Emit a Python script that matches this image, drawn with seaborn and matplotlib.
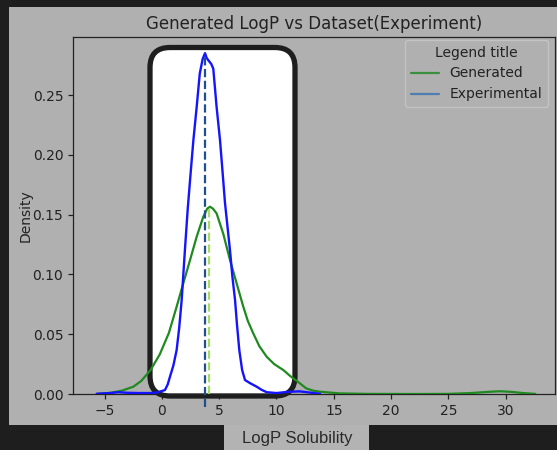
import matplotlib
matplotlib.use("Agg")
import matplotlib.pyplot as plt
import seaborn as sns
import pandas as pd
from matplotlib.patches import FancyBboxPatch, Rectangle
from matplotlib.transforms import IdentityTransform
from matplotlib.lines import Line2D

# ---- data ----
exp_x = [-5.7, -4.5, -3.8, -3.0, -2.0, -1.0, -0.46, 0.26, 0.5, 0.7, 1.0, 1.28, 1.5, 1.72,
         2.0, 2.25, 2.5, 2.74, 3.03, 3.3, 3.55, 3.76, 3.9, 4.05, 4.3, 4.48, 4.77, 5.07,
         5.3, 5.5, 5.72, 5.94, 6.15, 6.38, 6.55, 6.75, 7.0, 7.25, 7.7, 8.27, 8.7, 9.14,
         10.0, 11.0, 12.0, 12.9, 13.8]
exp_y = [0.0002, 0.0008, 0.0015, 0.001, 0.0008, 0.0008, 0.0012, 0.0033, 0.008, 0.0145,
         0.024, 0.0368, 0.055, 0.0786, 0.12, 0.155, 0.1845, 0.212, 0.240, 0.268, 0.280,
         0.285, 0.281, 0.279, 0.276, 0.272, 0.240, 0.212, 0.1845, 0.160, 0.140, 0.120,
         0.098, 0.0786, 0.058, 0.0368, 0.020, 0.0117, 0.009, 0.0061, 0.0035, 0.0015,
         0.0008, 0.0018, 0.0022, 0.0012, 0.0002]

gen_x = [-5.7, -4.5, -3.5, -2.5, -1.8, -1.0, -0.2, 0.6, 1.28, 1.86, 2.45, 3.03, 3.6, 3.95,
         4.19, 4.45, 4.77, 5.35, 5.94, 6.52, 7.1, 7.5, 7.97, 8.5, 9.14, 9.8, 10.6, 11.2,
         11.76, 12.6, 13.2, 13.8, 15.5, 18, 22, 25, 27, 28.5, 29.5, 30.5, 31.5, 32.6]
gen_y = [0.0, 0.001, 0.0028, 0.0061, 0.011, 0.020, 0.033, 0.051, 0.073, 0.0925, 0.112,
         0.1315, 0.148, 0.155, 0.1566, 0.155, 0.151, 0.134, 0.112, 0.0925, 0.073, 0.061,
         0.0507, 0.040, 0.0312, 0.025, 0.020, 0.015, 0.011, 0.0047, 0.0028, 0.0019,
         0.0005, 0.0001, 0.0, 0.0001, 0.0008, 0.0018, 0.0023, 0.0018, 0.0008, 0.0001]

exp_mean = 3.75
exp_peak = 0.285
gen_mean = 4.13
gen_peak = 0.1566

series_labels = ["Generated", "Experimental"]
title = "Generated LogP vs Dataset(Experiment)"
xlabel = "LogP Solubility"
ylabel = "Density"
xticks = [-5, 0, 5, 10, 15, 20, 25, 30]
yticks = [0.00, 0.05, 0.10, 0.15, 0.20, 0.25]

GRAY = "#b0b0b0"
DARK = "#1e1e1e"

sns.set_style("ticks")
plt.rcParams["font.family"] = ["DejaVu Sans"]

fig = plt.figure(figsize=(5.57, 4.5), dpi=100, facecolor=DARK)
# gray panel of the screenshot
fig.patches.append(Rectangle((9 / 557, 25 / 450), 548 / 557, 418 / 450,
                             transform=fig.transFigure, facecolor=GRAY,
                             edgecolor="none", zorder=-10))
# label box below
fig.patches.append(Rectangle((224 / 557, 0), 145 / 557, 25 / 450,
                             transform=fig.transFigure, facecolor="#b3b3b3",
                             edgecolor="none", zorder=-10))

ax = fig.add_axes([73 / 557, 56 / 450, 482 / 557, 357 / 450])
ax.set_facecolor(GRAY)
for s in ax.spines.values():
    s.set_color("#222222")
    s.set_linewidth(0.9)

df_gen = pd.DataFrame({"x": gen_x, "y": gen_y})
df_exp = pd.DataFrame({"x": exp_x, "y": exp_y})
sns.lineplot(data=df_gen, x="x", y="y", color="#1f8a1f", lw=1.6, estimator=None, ax=ax, zorder=3)
sns.lineplot(data=df_exp, x="x", y="y", color="#1414ff", lw=1.7, estimator=None, ax=ax, zorder=3)

ax.plot([exp_mean, exp_mean], [-0.011, exp_peak], ls="--", color="#1f4f8f", lw=1.6,
        clip_on=False, zorder=3.5)
ax.plot([gen_mean, gen_mean], [0, gen_peak], ls="--", color="#a4dc66", lw=1.6, zorder=3.5)

# white rounded highlight box (in pixel coordinates)
box = FancyBboxPatch((150, 450 - 396), 145, 396 - 47.5,
                     boxstyle="round,pad=0,rounding_size=20",
                     transform=IdentityTransform(), facecolor="white",
                     edgecolor=DARK, linewidth=3.8, clip_on=False, zorder=1.5)
ax.add_patch(box)

ax.set_xlim(-7.77, 34.32)
ax.set_ylim(0, 0.2985)
ax.set_xticks(xticks)
ax.set_xticklabels([str(t).replace("-", "\u2212") for t in xticks])
ax.set_yticks(yticks)
ax.set_yticklabels([f"{t:.2f}" for t in yticks])
ax.tick_params(colors="#222222", labelsize=10, length=3.5, width=0.9)
ax.set_xlabel("")
ax.set_ylabel(ylabel, fontsize=10, color="#222222", labelpad=0)
ax.set_title(title, fontsize=12, color="#222222")

handles = [Line2D([0], [0], color="#3b8e3b", lw=1.6),
           Line2D([0], [0], color="#4f7fb0", lw=1.6)]
leg = ax.legend(handles, series_labels, title="Legend title", loc="upper right",
                bbox_to_anchor=(1.0, 1.0 + 4 / 357),
                fontsize=10, title_fontsize=10, frameon=True)
leg.get_frame().set_facecolor(GRAY)
leg.get_frame().set_edgecolor("#c8c8c8")
for t in leg.get_texts():
    t.set_color("#222222")
leg.get_title().set_color("#222222")

fig.text(297 / 557, 1 - 438 / 450, xlabel, ha="center", va="center",
         fontsize=12, family="Liberation Sans", color="#2a2a2a")

fig.savefig("out.png", dpi=100, facecolor=DARK)
